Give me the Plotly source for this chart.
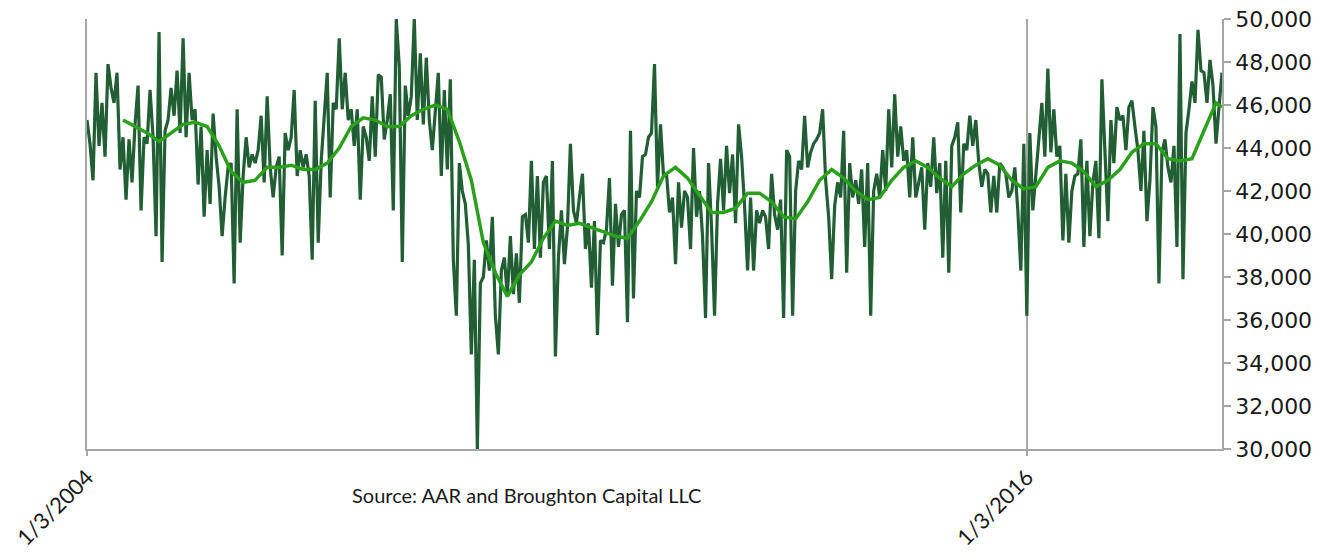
import pandas as pd
import plotly.graph_objects as go

# Weekly carloads (thousands), sampled every 14 days from 1/3/2004
weekly_k = [
    45.3, 44.2, 42.5, 47.5, 44.1, 46.1, 43.6, 47.9, 46.8, 46.1,
    47.5, 43.0, 44.5, 41.6, 44.4, 42.4, 45.1, 46.9, 41.1, 44.5,
    44.2, 46.7, 44.5, 39.9, 49.4, 38.7, 44.8, 45.3, 46.8, 45.5,
    47.6, 44.7, 49.1, 44.5, 47.5, 45.3,
    45.8, 42.3, 45.0, 40.8, 43.9, 41.4, 45.6, 43.6, 42.2, 39.9,
    41.7, 43.1, 43.3, 37.7, 45.8, 39.6, 42.7, 44.5, 43.1, 43.7,
    43.3, 43.9, 45.5, 42.4, 46.4, 43.1, 41.7, 43.1, 43.6, 39.0,
    44.7, 43.9, 44.5, 46.7, 42.7, 43.9, 43.1, 43.7, 42.7,
    38.8, 46.2, 39.6, 43.4, 45.3, 47.5, 41.7, 46.1, 45.8, 49.1,
    45.8, 47.5, 45.3, 45.8, 44.1, 45.8, 41.6, 45.0, 44.5, 43.4,
    46.4, 43.6, 47.4, 47.3, 44.4, 45.3, 46.5, 41.1, 50.0, 47.8,
    38.7, 46.9, 45.5, 46.4, 50.0, 45.3, 48.4, 45.1,
    48.2, 45.3, 43.9, 45.6, 47.5, 42.7, 46.7, 43.0, 47.2, 38.8,
    36.2, 43.3, 42.0, 41.4, 39.5, 34.4, 38.8, 30.0, 37.7, 38.0,
    39.7, 38.3, 40.8, 36.2, 34.4, 38.3, 38.9, 37.1, 39.9, 37.2,
    39.1, 36.8, 40.8, 40.9, 39.6, 43.4, 39.3, 42.7,
    38.9, 42.4, 42.7, 39.3, 43.4, 34.3, 38.9, 41.1, 38.6, 40.3,
    44.2, 41.1, 40.5, 41.7, 42.8, 39.3, 40.5, 37.5, 40.6, 35.3,
    39.7, 39.6, 40.2, 42.6, 37.6, 41.4, 39.4, 40.9, 41.1, 35.9,
    44.8, 37.0, 42.0, 41.7, 43.6, 43.7, 44.5, 44.7, 47.9,
    42.2, 45.1, 42.7, 42.8, 41.0, 41.7, 38.6, 42.4, 40.3, 42.0,
    41.7, 39.3, 44.0, 40.8, 42.0, 39.9, 36.1, 43.3, 40.3, 36.2,
    41.4, 43.5, 41.1, 44.1, 41.9, 43.7, 40.5, 45.1, 43.6, 41.3,
    38.3, 41.7, 38.3, 41.1, 40.5, 41.1, 40.8, 39.3,
    42.8, 40.9, 40.2, 41.6, 36.1, 43.9, 43.6, 36.2, 42.0, 43.4,
    43.0, 45.5, 43.1, 43.8, 44.2, 44.4, 44.7, 45.8, 42.5, 40.8,
    37.9, 41.3, 42.4, 41.7, 44.8, 38.2, 43.3, 41.7, 42.5, 41.4,
    43.0, 39.4, 43.3, 36.2, 42.0, 42.8, 41.7, 43.9,
    42.0, 45.8, 43.1, 46.5, 43.6, 45.0, 43.4, 43.9, 41.7, 44.5,
    41.7, 42.5, 43.1, 40.2, 43.3, 42.2, 44.5, 41.9, 43.3, 38.9,
    43.4, 38.2, 44.1, 44.5, 45.2, 41.0, 44.2, 43.9, 45.5, 44.1,
    45.3, 43.3, 42.2, 43.0, 42.8, 41.0, 42.7, 41.0, 43.3,
    43.1, 42.8, 41.7, 42.0, 43.1, 41.1, 38.3, 44.2, 36.2, 44.7,
    41.1, 43.0, 44.4, 46.1, 43.6, 47.7, 43.8, 45.8, 43.6, 44.1,
    39.7, 42.8, 39.6, 42.0, 42.7, 42.8, 44.4, 39.4, 43.4, 39.9,
    42.4, 43.4, 39.8, 47.2, 44.2, 40.6, 45.3,
    43.3, 45.9, 45.3, 45.5, 43.9, 45.9, 46.2, 45.0, 43.9, 42.0,
    44.8, 40.6, 42.5, 45.9, 45.0, 37.7, 43.8, 44.4, 43.1, 42.4,
    44.1, 39.4, 49.3, 37.9, 44.7, 45.8, 47.1, 46.1, 49.5, 47.6,
    47.5, 46.1, 48.1, 46.9, 44.2, 45.9, 47.5,
]

# Moving average (thousands), every 56 days from 6/19/2004, plus final point
moving_avg_k = [
    45.3, 45.0, 44.7, 44.3, 44.7, 45.1, 45.2, 45.0, 44.1, 42.9,
    42.4, 42.5, 43.1, 43.1, 43.2, 43.0, 43.0, 43.3, 44.0, 45.0,
    45.4, 45.3, 45.0, 45.0, 45.5, 45.8, 46.0, 45.8, 44.3, 42.5,
    39.6, 38.2, 37.1, 38.1, 38.7, 39.8, 40.6, 40.4, 40.5, 40.3,
    40.1, 39.9, 39.8, 40.6, 41.5, 42.7, 43.1, 42.6, 41.8, 41.0,
    41.0, 41.2, 41.9, 41.9, 41.5, 40.8, 40.7, 41.5, 42.5, 43.0,
    42.6, 42.0, 41.6, 41.7, 42.5, 43.1, 43.4, 43.1, 42.6, 42.2,
    42.8, 43.2, 43.5, 43.2, 42.5, 42.1, 42.2, 43.1, 43.4, 43.3,
    42.9, 42.2, 42.5, 43.0, 43.8, 44.2, 44.2, 43.5, 43.4, 43.5,
    44.8, 46.1, 45.9,
]

x_tick_dates = ["2004-01-03", "2016-01-03"]
x_tick_text = ["1/3/2004", "1/3/2016"]
y_ticks = list(range(30000, 50001, 2000))
source_text = "Source: AAR and Broughton Capital LLC"

dates = pd.date_range("2004-01-03", periods=len(weekly_k), freq="14D")
weekly = [v * 1000 for v in weekly_k]
ma_dates = list(pd.date_range(dates[12], periods=len(moving_avg_k) - 1, freq="56D")) + [dates[-1]]
moving_avg = [v * 1000 for v in moving_avg_k]

GRID = "#A6A6A6"
fig = go.Figure()
fig.add_trace(go.Scatter(x=dates, y=weekly, mode="lines",
                         line=dict(color="#215E33", width=3.2), showlegend=False))
fig.add_trace(go.Scatter(x=ma_dates, y=moving_avg, mode="lines",
                         line=dict(color="#2BA01C", width=3.5), showlegend=False))

# The page body has an 8px default margin, so the figure is 8px smaller
fig.update_layout(
    width=1329, height=550,
    margin=dict(l=79, r=115, t=11, b=109, autoexpand=False),
    paper_bgcolor="white", plot_bgcolor="white",
    xaxis=dict(
        type="date", range=[dates[0], dates[-1]], automargin=False,
        tickmode="array", tickvals=x_tick_dates, ticktext=x_tick_text,
        tickangle=-45, tickfont=dict(family="Lato", size=22, color="#1a1a1a"),
        showgrid=True, gridcolor=GRID, gridwidth=1.5,
        showline=True, linecolor=GRID, linewidth=1.5,
        ticks="outside", ticklen=5, tickcolor=GRID, tickwidth=1.5,
        zeroline=False, ticklabeloverflow="allow",
    ),
    yaxis=dict(
        side="right", range=[30000, 50000], automargin=False,
        tickmode="array", tickvals=y_ticks,
        tickformat=",d", ticklabeloverflow="allow",
        tickfont=dict(family="DejaVu Sans", size=22, color="#1a1a1a"),
        showgrid=False, zeroline=False,
        showline=True, mirror=True, linecolor=GRID, linewidth=1.5,
        ticks="outside", ticklen=7, tickcolor=GRID, tickwidth=1.5,
    ),
    annotations=[dict(
        text=source_text, xref="paper", yref="paper",
        x=(526 - 87) / 1135, y=(449 - 495) / 430,
        xanchor="center", yanchor="middle", showarrow=False,
        font=dict(family="Lato", size=20, color="#1a1a1a"),
    )],
)

fig.write_html("out.html")
